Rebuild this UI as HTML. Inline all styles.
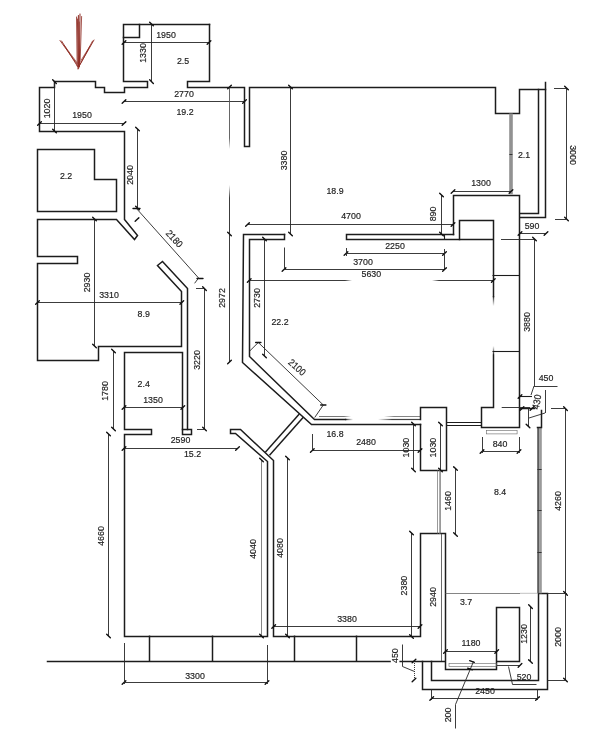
<!DOCTYPE html>
<html><head><meta charset="utf-8"><title>Floor plan</title>
<style>
html,body{margin:0;padding:0;background:#fff;}
body{width:601px;height:750px;overflow:hidden;}
svg{display:block;filter:blur(0.35px)}
svg text{font-family:"Liberation Sans",sans-serif;}
.w{stroke:#1c1c1c;stroke-width:1.5;fill:none;stroke-linejoin:miter;stroke-linecap:square}
.w2{stroke:#1c1c1c;stroke-width:1.1;fill:none}
.d{stroke:#262626;stroke-width:0.9;fill:none}
.dl{stroke:#8a8a8a;stroke-width:0.6;fill:none}
.t{stroke:#111;stroke-width:1.4;fill:none;stroke-linecap:round}
.g{stroke:#8c8c8c;fill:none}
.r{stroke:#8e2b22;fill:none;stroke-linecap:round}
</style></head><body>
<svg width="601" height="750" viewBox="0 0 601 750">
<defs>
<linearGradient id="fr" x1="0" x2="1" y1="0" y2="0"><stop offset="0" stop-color="#222" stop-opacity="1"/><stop offset="1" stop-color="#222" stop-opacity="0"/></linearGradient>
</defs>
<rect width="601" height="750" fill="#fff"/>
<path class="w" d="M209.5,24.5 L123.5,24.5 L123.5,81.5 L147.5,81.5 L147.5,87.5 L124.5,87.5 L124.5,92.5 L104.5,92.5 L104.5,87.5 L95.5,87.5 L95.5,81.5 L54.5,81.5 L54.5,87.5 L39.5,87.5 L39.5,131.5 L124.5,131.5 L124.5,219.5 L137.5,235.5 L134.5,239.5 L116.5,219.5 L37.5,219.5 L37.5,256.5 L77.5,256.5 L77.5,263.5 L37.5,263.5 L37.5,360.5 L98.5,360.5 L98.5,346.5 L181.5,346.5 L181.5,291.5 L157.5,265.5 L162.5,261.5 L187.5,288.5 L187.5,429.5" />
<path class="w" d="M209.5,24.5 L209.5,81.5 L187.5,81.5 L187.5,87.5 L244.5,87.5 L244.5,146.5 L249.5,146.5 L249.5,87.5 L495.5,87.5 L495.5,113.5 L519.5,113.5 L519.5,89.5 L545.5,89.5" />
<path class="w" d="M123.5,37.5 L139.5,37.5 L139.5,24.5" />
<path class="w" d="M37.5,149.5 L94.5,149.5 L94.5,179.5 L116.5,179.5 L116.5,211.5 L37.5,211.5 Z" />
<path class="w" d="M182.5,429.5 L182.5,352.5 L124.5,352.5 L124.5,429.5 L151.5,429.5 L151.5,434.5 L124.5,434.5 L124.5,636.5 L267.5,636.5 L267.5,461.5 L235.5,433.5 L230.5,433.5 L230.5,429.5 L240.5,429.5 L273.5,460.5 L273.5,636.5 L420.5,636.5 L420.5,533.5 L445.5,533.5 L445.5,669.5 L496.5,669.5 L496.5,607.5 L519.5,607.5 L519.5,661.5 L496.5,661.5" />
<path class="w" d="M182.5,429.5 L191.5,429.5 L191.5,434.5 L182.5,434.5 Z" />
<path class="w" d="M47.5,661.5 L444.5,661.5" />
<path class="w" d="M149.5,636.3 L149.5,661" />
<path class="w" d="M212.5,636.3 L212.5,661" />
<path class="w" d="M294.5,636.3 L294.5,661" />
<path class="w" d="M356.5,636.3 L356.5,661" />
<path class="w" d="M422.5,661.5 L422.5,689.5 L547.5,689.5 L547.5,593.5 L538.5,593.5 L538.5,680.5 L431.5,680.5 L431.5,661.5" />
<rect x="449" y="663.6" width="47.5" height="2.8" class="dl" style="stroke:#666"/>
<path class="w" d="M284.5,234.5 L243.5,234.5 L242.5,362.5 L311.5,424.5 L420.5,424.5" />
<path class="w" d="M284.5,234.5 L284.5,239.5 L249.5,239.5 L249.5,356.5 L314.5,419.5 L345.5,419.5" />
<linearGradient id="g1" gradientUnits="userSpaceOnUse" x1="345" y1="419.5" x2="353" y2="419.5"><stop offset="0" stop-color="#1c1c1c" stop-opacity="1"/><stop offset="1" stop-color="#1c1c1c" stop-opacity="0"/></linearGradient>
<path d="M345,419.5 L353,419.5" stroke="url(#g1)" stroke-width="1.35" fill="none"/>
<linearGradient id="g2" gradientUnits="userSpaceOnUse" x1="392" y1="419.5" x2="378" y2="419.5"><stop offset="0" stop-color="#444" stop-opacity="1"/><stop offset="1" stop-color="#444" stop-opacity="0"/></linearGradient>
<path d="M392,419.5 L378,419.5" stroke="url(#g2)" stroke-width="1.2" fill="none"/>
<path class="w2" style="stroke:#444;stroke-width:1.2" d="M392,419.5 L420,419.5" />
<path class="d" style="stroke:#555;stroke-width:0.8" d="M319,416.5 L344,416.5" />
<linearGradient id="g3" gradientUnits="userSpaceOnUse" x1="344" y1="416.5" x2="351" y2="416.5"><stop offset="0" stop-color="#555" stop-opacity="1"/><stop offset="1" stop-color="#555" stop-opacity="0"/></linearGradient>
<path d="M344,416.5 L351,416.5" stroke="url(#g3)" stroke-width="0.8" fill="none"/>
<linearGradient id="g4" gradientUnits="userSpaceOnUse" x1="394" y1="416.5" x2="384" y2="416.5"><stop offset="0" stop-color="#666" stop-opacity="1"/><stop offset="1" stop-color="#666" stop-opacity="0"/></linearGradient>
<path d="M394,416.5 L384,416.5" stroke="url(#g4)" stroke-width="0.8" fill="none"/>
<path class="d" style="stroke:#666;stroke-width:0.8" d="M394,416.5 L420,416.5" />
<path class="w" d="M265.8,451.7 L298.8,414.5" />
<path class="w" d="M270,454.7 L302.8,417.8" />
<path class="w" d="M420.5,419.5 L420.5,407.5 L446.5,407.5 L446.5,470.5 L420.5,470.5 L420.5,424.5" />
<path class="w2" d="M446,422.5 L482,422.5" />
<path class="w2" d="M446,425.5 L482,425.5" />
<path class="dl" style="stroke:#555" d="M437.5,470 L437.5,534" />
<path class="dl" style="stroke:#777" d="M439.5,470 L439.5,534" />
<path class="dl" style="stroke:#555" d="M440.5,470 L440.5,534" />
<path class="w" d="M453.5,234.5 L346.5,234.5 L346.5,239.5 L492.5,239.5" />
<path class="w2" d="M444.5,234 L444.5,239" />
<path class="w" d="M453.5,234.5 L453.5,195.5 L519.5,195.5 L519.5,427.5 L481.5,427.5 L481.5,407.5 L493.5,407.5 L493.5,355.5" />
<path class="w" d="M459.5,239.5 L459.5,220.5 L493.5,220.5 L493.5,296.5" />
<linearGradient id="g5" gradientUnits="userSpaceOnUse" x1="493.5" y1="296" x2="493.5" y2="306"><stop offset="0" stop-color="#1c1c1c" stop-opacity="1"/><stop offset="1" stop-color="#1c1c1c" stop-opacity="0"/></linearGradient>
<path d="M493.5,296 L493.5,306" stroke="url(#g5)" stroke-width="1.35" fill="none"/>
<linearGradient id="g6" gradientUnits="userSpaceOnUse" x1="493.5" y1="355" x2="493.5" y2="346"><stop offset="0" stop-color="#1c1c1c" stop-opacity="1"/><stop offset="1" stop-color="#1c1c1c" stop-opacity="0"/></linearGradient>
<path d="M493.5,355 L493.5,346" stroke="url(#g6)" stroke-width="1.35" fill="none"/>
<linearGradient id="fd" x1="0" x2="0" y1="0" y2="1"><stop offset="0" stop-color="#222" stop-opacity="1"/><stop offset="1" stop-color="#222" stop-opacity="0"/></linearGradient>
<path class="w2" d="M492.5,275.5 L520,275.5" />
<path class="w2" d="M492.5,351.5 L520,351.5" />
<path class="w" d="M538.5,89.5 L538.5,213.5 L520.5,213.5" />
<path class="w" d="M545.5,82.5 L545.5,217.5 L520.5,217.5" />
<rect x="509.2" y="113.5" width="3.6" height="80.8" fill="#929292"/>
<path class="d" style="stroke:#333;stroke-width:1" d="M509.4,154.5 L512.4,154.5" />
<rect x="537.2" y="427.6" width="2.3" height="165.7" fill="#5c5c5c"/>
<rect x="539.5" y="427.6" width="2.3" height="165.7" fill="#9a9a9a"/>
<path class="d" style="stroke:#333;stroke-width:1" d="M537.4,469.5 L541.6,469.5" />
<path class="d" style="stroke:#333;stroke-width:1" d="M537.4,510.5 L541.6,510.5" />
<path class="d" style="stroke:#333;stroke-width:1" d="M537.4,552.5 L541.6,552.5" />
<path class="w" d="M520.5,408.5 L534.5,408.5" />
<path class="w" d="M541.5,410.5 L541.5,427.5 L537.5,427.5" />
<path class="w2" d="M520,396.5 L532,396.5" />
<rect x="486.3" y="430.5" width="30.8" height="3.4" class="dl" style="stroke:#666"/>
<path class="dl" style="stroke:#444;stroke-width:0.8" d="M441.5,534 L441.5,661" />
<path class="d" style="stroke:#666;stroke-width:0.8" d="M445.5,593.5 L520,593.5" />
<path d="M520,593.3 L538,593.3" stroke="#999" stroke-width="0.6"/>
<path class="d" d="M124,42.5 L209,42.5" />
<path class="t" d="M122.16,44.34 L125.84,40.66"/>
<path class="t" d="M207.16,44.34 L210.84,40.66"/>
<path class="d" d="M151.5,24 L151.5,81.7" />
<path class="t" d="M149.66,22.16 L153.34,25.84"/>
<path class="t" d="M149.66,79.86 L153.34,83.54"/>
<path class="d" d="M124,101.5 L244.5,101.5" />
<path class="t" d="M122.16,103.34 L125.84,99.66"/>
<path class="t" d="M242.66,103.34 L246.34,99.66"/>
<path class="d" d="M54.5,81.7 L54.5,131" />
<path class="t" d="M52.66,79.86 L56.34,83.54"/>
<path class="t" d="M52.66,129.16 L56.34,132.84"/>
<path class="d" d="M39.5,123.5 L124,123.5" />
<path class="t" d="M37.66,125.34 L41.34,121.66"/>
<path class="t" d="M122.16,125.34 L125.84,121.66"/>
<path class="d" d="M137.5,129 L137.5,208" />
<path class="t" d="M135.66,127.16 L139.34,130.84"/>
<path class="t" d="M135.66,206.16 L139.34,209.84"/>
<path class="t" d="M135.16,221.34 L138.84,217.66"/>
<path class="d" d="M136,208 L198.6,278" />
<path class="t" d="M133,208.5 L140,208.5" />
<path class="t" d="M197,278.5 L203,278.5" />
<path class="d" d="M198.6,278 L194.6,283.3" />
<path class="d" d="M94.5,219 L94.5,346" />
<path class="t" d="M92.66,217.16 L96.34,220.84"/>
<path class="t" d="M92.66,344.16 L96.34,347.84"/>
<path class="d" d="M37.5,302.5 L181.8,302.5" />
<path class="t" d="M35.66,304.34 L39.34,300.66"/>
<path class="t" d="M179.96,304.34 L183.64,300.66"/>
<path class="d" d="M113.5,351 L113.5,429" />
<path class="t" d="M111.66,349.16 L115.34,352.84"/>
<path class="t" d="M111.66,427.16 L115.34,430.84"/>
<path class="d" d="M124,407.5 L182.8,407.5" />
<path class="t" d="M122.16,409.34 L125.84,405.66"/>
<path class="t" d="M180.96,409.34 L184.64,405.66"/>
<path class="d" d="M204.5,288.6 L204.5,429" />
<path class="t" d="M202.66,286.76 L206.34,290.44"/>
<path class="t" d="M202.66,427.16 L206.34,430.84"/>
<path class="d" d="M197,429.5 L204.4,429.5" />
<path class="d" d="M196,288.5 L204.4,288.5" />
<path class="d" style="stroke:#555" d="M229.5,87 L229.5,138" />
<linearGradient id="g7" gradientUnits="userSpaceOnUse" x1="229.5" y1="138" x2="229.5" y2="149"><stop offset="0" stop-color="#555" stop-opacity="1"/><stop offset="1" stop-color="#555" stop-opacity="0"/></linearGradient>
<path d="M229.5,138 L229.5,149" stroke="url(#g7)" stroke-width="0.9" fill="none"/>
<linearGradient id="g8" gradientUnits="userSpaceOnUse" x1="229.5" y1="198" x2="229.5" y2="185"><stop offset="0" stop-color="#262626" stop-opacity="1"/><stop offset="1" stop-color="#262626" stop-opacity="0"/></linearGradient>
<path d="M229.5,198 L229.5,185" stroke="url(#g8)" stroke-width="0.9" fill="none"/>
<path class="d" d="M229.5,198 L229.5,362" />
<path class="t" d="M227.66,88.84 L231.34,85.16"/>
<path class="t" d="M227.66,232.16 L231.34,235.84"/>
<path class="t" d="M227.66,363.84 L231.34,360.16"/>
<path class="d" d="M124,448.5 L237.5,448.5" />
<path class="t" d="M122.16,450.34 L125.84,446.66"/>
<path class="t" d="M235.66,450.34 L239.34,446.66"/>
<path class="d" d="M108.5,434 L108.5,636" />
<path class="t" d="M106.66,432.16 L110.34,435.84"/>
<path class="t" d="M106.66,634.16 L110.34,637.84"/>
<path class="d" style="stroke:#666;stroke-width:0.8" d="M261.5,460 L261.5,636" />
<path class="t" d="M259.66,458.16 L263.34,461.84"/>
<path class="t" d="M259.66,634.16 L263.34,637.84"/>
<path class="d" d="M287.5,458 L287.5,636" />
<path class="t" d="M285.66,456.16 L289.34,459.84"/>
<path class="t" d="M285.66,634.16 L289.34,637.84"/>
<path class="d" d="M124,682.5 L267,682.5" />
<path class="t" d="M122.16,684.34 L125.84,680.66"/>
<path class="t" d="M265.16,684.34 L268.84,680.66"/>
<path class="d" d="M124.5,643 L124.5,684" />
<path class="d" d="M267.5,645 L267.5,684" />
<path class="d" d="M290.5,87 L290.5,234" />
<path class="t" d="M288.66,85.16 L292.34,88.84"/>
<path class="t" d="M288.66,232.16 L292.34,235.84"/>
<path class="d" d="M247.5,224.5 L453,224.5" />
<path class="t" d="M245.66,226.34 L249.34,222.66"/>
<path class="t" d="M451.16,226.34 L454.84,222.66"/>
<path class="d" d="M346,253.5 L444.5,253.5" />
<path class="t" d="M344.16,255.34 L347.84,251.66"/>
<path class="t" d="M442.66,255.34 L446.34,251.66"/>
<path class="d" d="M346.5,248 L346.5,256" />
<path class="d" d="M444.5,249 L444.5,270" />
<path class="d" d="M284,269.5 L444.5,269.5" />
<path class="t" d="M282.16,271.34 L285.84,267.66"/>
<path class="t" d="M442.66,271.34 L446.34,267.66"/>
<path class="d" d="M284.5,247.5 L284.5,270" />
<path class="d" d="M249.2,280.5 L345,280.5" />
<linearGradient id="g9" gradientUnits="userSpaceOnUse" x1="345" y1="280.5" x2="352" y2="280.5"><stop offset="0" stop-color="#262626" stop-opacity="1"/><stop offset="1" stop-color="#262626" stop-opacity="0"/></linearGradient>
<path d="M345,280.5 L352,280.5" stroke="url(#g9)" stroke-width="0.9" fill="none"/>
<linearGradient id="g10" gradientUnits="userSpaceOnUse" x1="439" y1="280.5" x2="432" y2="280.5"><stop offset="0" stop-color="#262626" stop-opacity="1"/><stop offset="1" stop-color="#262626" stop-opacity="0"/></linearGradient>
<path d="M439,280.5 L432,280.5" stroke="url(#g10)" stroke-width="0.9" fill="none"/>
<path class="d" d="M439,280.5 L493.3,280.5" />
<path class="t" d="M247.36,282.34 L251.04,278.66"/>
<path class="t" d="M491.46,282.34 L495.14,278.66"/>
<path class="d" d="M264.5,239 L264.5,356" />
<path class="t" d="M262.66,237.16 L266.34,240.84"/>
<path class="t" d="M262.66,354.16 L266.34,357.84"/>
<path class="d" d="M258.3,342.5 L323.3,405" />
<path class="t" d="M255.70,342.55 L260.90,342.45"/>
<path class="t" d="M320.70,405.05 L325.90,404.95"/>
<path class="d" d="M249.7,351 L258.3,342.5" />
<path class="d" d="M314.7,417.5 L323.3,405" />
<path class="d" d="M312.3,450.5 L420,450.5" />
<path class="t" d="M310.46,452.34 L314.14,448.66"/>
<path class="t" d="M418.16,452.34 L421.84,448.66"/>
<path class="d" d="M312.5,434 L312.5,450" />
<path class="d" d="M413.5,424 L413.5,470" />
<path class="t" d="M411.66,422.16 L415.34,425.84"/>
<path class="t" d="M411.66,468.16 L415.34,471.84"/>
<path class="d" d="M440.5,424 L440.5,470" />
<path class="t" d="M438.66,422.16 L442.34,425.84"/>
<path class="t" d="M438.66,468.16 L442.34,471.84"/>
<path class="d" d="M453,191.5 L511,191.5" />
<path class="t" d="M451.16,193.34 L454.84,189.66"/>
<path class="t" d="M509.16,193.34 L512.84,189.66"/>
<path class="d" d="M441.5,195 L441.5,234" />
<path class="t" d="M439.66,193.16 L443.34,196.84"/>
<path class="t" d="M439.66,232.16 L443.34,235.84"/>
<path class="d" d="M566.5,88 L566.5,219" />
<path class="t" d="M564.66,86.16 L568.34,89.84"/>
<path class="t" d="M564.66,217.16 L568.34,220.84"/>
<path class="d" d="M554,88.5 L566,88.5" />
<path class="d" d="M555,219.5 L566,219.5" />
<path class="d" d="M520,233.5 L546,233.5" />
<path class="t" d="M518.16,235.34 L521.84,231.66"/>
<path class="t" d="M544.16,235.34 L547.84,231.66"/>
<path class="d" d="M534.5,239 L534.5,386" />
<path class="t" d="M532.66,237.16 L536.34,240.84"/>
<path class="d" d="M501,239.5 L534,239.5" />
<path class="d" d="M534,386.5 L557.5,386.5" />
<path class="d" d="M534,386 L531,395" />
<path class="d" d="M545.5,390 L545.5,413" />
<path class="d" d="M529,418 L545,413" />
<path class="d" d="M528.5,408.5 L528.5,426" />
<path class="t" d="M529.84,427.84 L526.16,424.16"/>
<path class="d" d="M501.7,407.5 L530,407.5" />
<path class="t" d="M518.16,398.34 L521.84,394.66"/>
<path class="t" d="M520.16,410.34 L523.84,406.66"/>
<path class="t" d="M530.16,410.34 L533.84,406.66"/>
<path class="d" d="M482,451.5 L519,451.5" />
<path class="t" d="M480.16,453.34 L483.84,449.66"/>
<path class="t" d="M517.16,453.34 L520.84,449.66"/>
<path class="d" d="M482.5,437 L482.5,453" />
<path class="d" d="M519.5,437 L519.5,453" />
<path class="d" d="M565.5,408.7 L565.5,593.3" />
<path class="t" d="M563.66,406.86 L567.34,410.54"/>
<path class="t" d="M563.66,591.46 L567.34,595.14"/>
<path class="d" d="M551,408.5 L565.8,408.5" />
<path class="d" d="M565.5,593.3 L565.5,680" />
<path class="t" d="M563.66,678.16 L567.34,681.84"/>
<path class="d" d="M547,593.5 L567,593.5" />
<path class="d" d="M547,680.5 L567,680.5" />
<path class="d" d="M455.5,468.5 L455.5,534.5" />
<path class="t" d="M453.66,466.66 L457.34,470.34"/>
<path class="t" d="M453.66,532.66 L457.34,536.34"/>
<path class="d" d="M411.5,533 L411.5,636.5" />
<path class="t" d="M409.66,531.16 L413.34,534.84"/>
<path class="t" d="M409.66,634.66 L413.34,638.34"/>
<path class="d" d="M445.5,651.5 L496.7,651.5" />
<path class="t" d="M443.66,653.34 L447.34,649.66"/>
<path class="t" d="M494.86,653.34 L498.54,649.66"/>
<path class="d" d="M530.5,606.7 L530.5,661.5" />
<path class="t" d="M528.66,604.86 L532.34,608.54"/>
<path class="t" d="M528.66,659.66 L532.34,663.34"/>
<path class="d" d="M497,665.5 L520,665.5" />
<path class="t" d="M518.16,667.14 L521.84,663.46"/>
<path class="d" d="M508.5,666.5 L512.5,684.5 L536.5,684.5" />
<path class="d" d="M431.7,698.5 L537.5,698.5" />
<path class="t" d="M429.86,700.34 L433.54,696.66"/>
<path class="t" d="M535.66,700.34 L539.34,696.66"/>
<path class="d" d="M431.5,689 L431.5,700" />
<path class="d" d="M537.5,689 L537.5,700" />
<path class="d" d="M473.5,661.5 L455.5,704.5 L455.5,728.5" />
<path class="t" d="M469.65,660.64 L474.35,662.36"/>
<path class="t" d="M467.65,668.14 L472.35,669.86"/>
<path class="d" stroke-dasharray="1 1" d="M414.5,661 L414.5,680" />
<path class="t" d="M412.16,662.84 L415.84,659.16"/>
<path class="t" d="M412.16,681.84 L415.84,678.16"/>
<path class="d" d="M402.5,644.5 L402.5,666.5 L414.5,671.5" />
<path class="d" d="M273.7,626.5 L420,626.5" />
<path class="t" d="M271.86,628.34 L275.54,624.66"/>
<path class="t" d="M418.16,628.34 L421.84,624.66"/>
<text transform="translate(166,35) rotate(0) scale(0.9,1)" font-size="9.8" fill="#222" text-anchor="middle" dy="0.29em" stroke="#222" stroke-width="0.18">1950</text>
<text transform="translate(143,53) rotate(-90) scale(0.9,1)" font-size="9.8" fill="#222" text-anchor="middle" dy="0.29em" stroke="#222" stroke-width="0.18">1330</text>
<text transform="translate(183,61) rotate(0) scale(0.9,1)" font-size="9.8" fill="#222" text-anchor="middle" dy="0.29em" stroke="#222" stroke-width="0.18">2.5</text>
<text transform="translate(184,94) rotate(0) scale(0.9,1)" font-size="9.8" fill="#222" text-anchor="middle" dy="0.29em" stroke="#222" stroke-width="0.18">2770</text>
<text transform="translate(185,112) rotate(0) scale(0.9,1)" font-size="9.8" fill="#222" text-anchor="middle" dy="0.29em" stroke="#222" stroke-width="0.18">19.2</text>
<text transform="translate(47.5,108.5) rotate(-90) scale(0.9,1)" font-size="9.8" fill="#222" text-anchor="middle" dy="0.29em" stroke="#222" stroke-width="0.18">1020</text>
<text transform="translate(82,115.5) rotate(0) scale(0.9,1)" font-size="9.8" fill="#222" text-anchor="middle" dy="0.29em" stroke="#222" stroke-width="0.18">1950</text>
<text transform="translate(66,176.3) rotate(0) scale(0.9,1)" font-size="9.8" fill="#222" text-anchor="middle" dy="0.29em" stroke="#222" stroke-width="0.18">2.2</text>
<text transform="translate(130,175) rotate(-90) scale(0.9,1)" font-size="9.8" fill="#222" text-anchor="middle" dy="0.29em" stroke="#222" stroke-width="0.18">2040</text>
<text transform="translate(174,239) rotate(48) scale(0.9,1)" font-size="9.8" fill="#222" text-anchor="middle" dy="0.29em" stroke="#222" stroke-width="0.18">2180</text>
<text transform="translate(87.5,282.5) rotate(-90) scale(0.9,1)" font-size="9.8" fill="#222" text-anchor="middle" dy="0.29em" stroke="#222" stroke-width="0.18">2930</text>
<text transform="translate(109,295) rotate(0) scale(0.9,1)" font-size="9.8" fill="#222" text-anchor="middle" dy="0.29em" stroke="#222" stroke-width="0.18">3310</text>
<text transform="translate(143.7,314) rotate(0) scale(0.9,1)" font-size="9.8" fill="#222" text-anchor="middle" dy="0.29em" stroke="#222" stroke-width="0.18">8.9</text>
<text transform="translate(143.7,383.7) rotate(0) scale(0.9,1)" font-size="9.8" fill="#222" text-anchor="middle" dy="0.29em" stroke="#222" stroke-width="0.18">2.4</text>
<text transform="translate(105.5,391) rotate(-90) scale(0.9,1)" font-size="9.8" fill="#222" text-anchor="middle" dy="0.29em" stroke="#222" stroke-width="0.18">1780</text>
<text transform="translate(153,400) rotate(0) scale(0.9,1)" font-size="9.8" fill="#222" text-anchor="middle" dy="0.29em" stroke="#222" stroke-width="0.18">1350</text>
<text transform="translate(196.7,360) rotate(-90) scale(0.9,1)" font-size="9.8" fill="#222" text-anchor="middle" dy="0.29em" stroke="#222" stroke-width="0.18">3220</text>
<text transform="translate(222.5,298) rotate(-90) scale(0.9,1)" font-size="9.8" fill="#222" text-anchor="middle" dy="0.29em" stroke="#222" stroke-width="0.18">2972</text>
<text transform="translate(180.5,440.5) rotate(0) scale(0.9,1)" font-size="9.8" fill="#222" text-anchor="middle" dy="0.29em" stroke="#222" stroke-width="0.18">2590</text>
<text transform="translate(192.5,454) rotate(0) scale(0.9,1)" font-size="9.8" fill="#222" text-anchor="middle" dy="0.29em" stroke="#222" stroke-width="0.18">15.2</text>
<text transform="translate(101,536) rotate(-90) scale(0.9,1)" font-size="9.8" fill="#222" text-anchor="middle" dy="0.29em" stroke="#222" stroke-width="0.18">4660</text>
<text transform="translate(253.6,549) rotate(-90) scale(0.9,1)" font-size="9.8" fill="#222" text-anchor="middle" dy="0.29em" stroke="#222" stroke-width="0.18">4040</text>
<text transform="translate(279.9,548) rotate(-90) scale(0.9,1)" font-size="9.8" fill="#222" text-anchor="middle" dy="0.29em" stroke="#222" stroke-width="0.18">4080</text>
<text transform="translate(195,676) rotate(0) scale(0.9,1)" font-size="9.8" fill="#222" text-anchor="middle" dy="0.29em" stroke="#222" stroke-width="0.18">3300</text>
<text transform="translate(284,160.5) rotate(-90) scale(0.9,1)" font-size="9.8" fill="#222" text-anchor="middle" dy="0.29em" stroke="#222" stroke-width="0.18">3380</text>
<text transform="translate(335,191) rotate(0) scale(0.9,1)" font-size="9.8" fill="#222" text-anchor="middle" dy="0.29em" stroke="#222" stroke-width="0.18">18.9</text>
<text transform="translate(351,216) rotate(0) scale(0.9,1)" font-size="9.8" fill="#222" text-anchor="middle" dy="0.29em" stroke="#222" stroke-width="0.18">4700</text>
<text transform="translate(395,246) rotate(0) scale(0.9,1)" font-size="9.8" fill="#222" text-anchor="middle" dy="0.29em" stroke="#222" stroke-width="0.18">2250</text>
<text transform="translate(363,262) rotate(0) scale(0.9,1)" font-size="9.8" fill="#222" text-anchor="middle" dy="0.29em" stroke="#222" stroke-width="0.18">3700</text>
<text transform="translate(371.3,273.7) rotate(0) scale(0.9,1)" font-size="9.8" fill="#222" text-anchor="middle" dy="0.29em" stroke="#222" stroke-width="0.18">5630</text>
<text transform="translate(257,298) rotate(-90) scale(0.9,1)" font-size="9.8" fill="#222" text-anchor="middle" dy="0.29em" stroke="#222" stroke-width="0.18">2730</text>
<text transform="translate(280,322) rotate(0) scale(0.9,1)" font-size="9.8" fill="#222" text-anchor="middle" dy="0.29em" stroke="#222" stroke-width="0.18">22.2</text>
<text transform="translate(296.7,367.6) rotate(42) scale(0.9,1)" font-size="9.8" fill="#222" text-anchor="middle" dy="0.29em" stroke="#222" stroke-width="0.18">2100</text>
<text transform="translate(335,434) rotate(0) scale(0.9,1)" font-size="9.8" fill="#222" text-anchor="middle" dy="0.29em" stroke="#222" stroke-width="0.18">16.8</text>
<text transform="translate(366,442) rotate(0) scale(0.9,1)" font-size="9.8" fill="#222" text-anchor="middle" dy="0.29em" stroke="#222" stroke-width="0.18">2480</text>
<text transform="translate(406,447.6) rotate(-90) scale(0.9,1)" font-size="9.8" fill="#222" text-anchor="middle" dy="0.29em" stroke="#222" stroke-width="0.18">1030</text>
<text transform="translate(432.8,447.6) rotate(-90) scale(0.9,1)" font-size="9.8" fill="#222" text-anchor="middle" dy="0.29em" stroke="#222" stroke-width="0.18">1030</text>
<text transform="translate(481,183) rotate(0) scale(0.9,1)" font-size="9.8" fill="#222" text-anchor="middle" dy="0.29em" stroke="#222" stroke-width="0.18">1300</text>
<text transform="translate(433,214) rotate(-90) scale(0.9,1)" font-size="9.8" fill="#222" text-anchor="middle" dy="0.29em" stroke="#222" stroke-width="0.18">890</text>
<text transform="translate(524,155) rotate(0) scale(0.9,1)" font-size="9.8" fill="#222" text-anchor="middle" dy="0.29em" stroke="#222" stroke-width="0.18">2.1</text>
<text transform="translate(573,155) rotate(90) scale(0.9,1)" font-size="9.8" fill="#222" text-anchor="middle" dy="0.29em" stroke="#222" stroke-width="0.18">3000</text>
<text transform="translate(532,226) rotate(0) scale(0.9,1)" font-size="9.8" fill="#222" text-anchor="middle" dy="0.29em" stroke="#222" stroke-width="0.18">590</text>
<text transform="translate(527,322) rotate(-90) scale(0.9,1)" font-size="9.8" fill="#222" text-anchor="middle" dy="0.29em" stroke="#222" stroke-width="0.18">3880</text>
<text transform="translate(546,378) rotate(0) scale(0.9,1)" font-size="9.8" fill="#222" text-anchor="middle" dy="0.29em" stroke="#222" stroke-width="0.18">450</text>
<text transform="translate(537.3,402) rotate(-80) scale(0.9,1)" font-size="9.8" fill="#222" text-anchor="middle" dy="0.29em" stroke="#222" stroke-width="0.18">430</text>
<text transform="translate(500,444) rotate(0) scale(0.9,1)" font-size="9.8" fill="#222" text-anchor="middle" dy="0.29em" stroke="#222" stroke-width="0.18">840</text>
<text transform="translate(500,492) rotate(0) scale(0.9,1)" font-size="9.8" fill="#222" text-anchor="middle" dy="0.29em" stroke="#222" stroke-width="0.18">8.4</text>
<text transform="translate(448.3,501) rotate(-90) scale(0.9,1)" font-size="9.8" fill="#222" text-anchor="middle" dy="0.29em" stroke="#222" stroke-width="0.18">1460</text>
<text transform="translate(558,501) rotate(-90) scale(0.9,1)" font-size="9.8" fill="#222" text-anchor="middle" dy="0.29em" stroke="#222" stroke-width="0.18">4260</text>
<text transform="translate(404.1,585.6) rotate(-90) scale(0.9,1)" font-size="9.8" fill="#222" text-anchor="middle" dy="0.29em" stroke="#222" stroke-width="0.18">2380</text>
<text transform="translate(433,597) rotate(-90) scale(0.9,1)" font-size="9.8" fill="#222" text-anchor="middle" dy="0.29em" stroke="#222" stroke-width="0.18">2940</text>
<text transform="translate(466,602) rotate(0) scale(0.9,1)" font-size="9.8" fill="#222" text-anchor="middle" dy="0.29em" stroke="#222" stroke-width="0.18">3.7</text>
<text transform="translate(471,643) rotate(0) scale(0.9,1)" font-size="9.8" fill="#222" text-anchor="middle" dy="0.29em" stroke="#222" stroke-width="0.18">1180</text>
<text transform="translate(524,634) rotate(-90) scale(0.9,1)" font-size="9.8" fill="#222" text-anchor="middle" dy="0.29em" stroke="#222" stroke-width="0.18">1230</text>
<text transform="translate(558,637) rotate(-90) scale(0.9,1)" font-size="9.8" fill="#222" text-anchor="middle" dy="0.29em" stroke="#222" stroke-width="0.18">2000</text>
<text transform="translate(524,677) rotate(0) scale(0.9,1)" font-size="9.8" fill="#222" text-anchor="middle" dy="0.29em" stroke="#222" stroke-width="0.18">520</text>
<text transform="translate(485,691) rotate(0) scale(0.9,1)" font-size="9.8" fill="#222" text-anchor="middle" dy="0.29em" stroke="#222" stroke-width="0.18">2450</text>
<text transform="translate(448,715) rotate(-90) scale(0.9,1)" font-size="9.8" fill="#222" text-anchor="middle" dy="0.29em" stroke="#222" stroke-width="0.18">200</text>
<rect x="390.8" y="659" width="8.6" height="4" fill="#fff"/>
<text transform="translate(395.4,655.6) rotate(-90) scale(0.9,1)" font-size="9.8" fill="#222" text-anchor="middle" dy="0.29em" stroke="#222" stroke-width="0.18">450</text>
<text transform="translate(347,619) rotate(0) scale(0.9,1)" font-size="9.8" fill="#222" text-anchor="middle" dy="0.29em" stroke="#222" stroke-width="0.18">3380</text>
<path class="r" d="M76.6,17 L77.2,66" stroke-width="0.9"/>
<path class="r" d="M78.4,15.5 L78,69" stroke-width="1.0"/>
<path class="r" d="M80,14 L79.4,67" stroke-width="1.0"/>
<path class="r" d="M81.6,16.5 L80.2,60" stroke-width="0.8"/>
<path class="r" d="M77.4,19 L78.6,68.5" stroke-width="0.9"/>
<path class="r" d="M79.2,22 L78.8,66" stroke-width="0.8"/>
<path class="r" d="M60,40.5 L76.6,63.5" stroke-width="0.9"/>
<path class="r" d="M61.6,41 L77.6,66.5" stroke-width="0.9"/>
<path class="r" d="M64,45 L77.2,63" stroke-width="0.7"/>
<path class="r" d="M94,40 L80,64.5" stroke-width="0.9"/>
<path class="r" d="M92.6,41 L79,66.5" stroke-width="0.9"/>
<path class="r" d="M90,46 L80,62" stroke-width="0.7"/>
</svg>
</body></html>
